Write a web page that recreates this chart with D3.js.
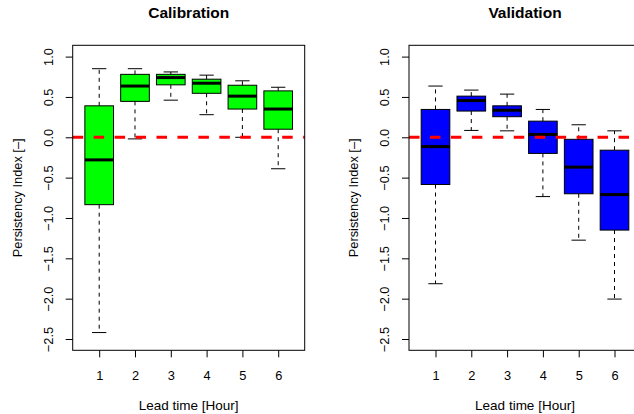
<!DOCTYPE html>
<html>
<head>
<meta charset="utf-8">
<script src="https://cdn.jsdelivr.net/npm/d3@7"></script>
<style>
  html, body { margin: 0; padding: 0; background: #fff; }
  svg { display: block; font-family: "Liberation Sans", Arial, Helvetica, sans-serif; }
</style>
</head>
<body>
<svg id="chart" width="634" height="414"></svg>
<script>
// Lead times (hours) shared by both panels
const leadTimes = [1, 2, 3, 4, 5, 6];
const yTicks = [1.0, 0.5, 0.0, -0.5, -1.0, -1.5, -2.0, -2.5];

// Calibration box statistics: lower whisker, Q1, median, Q3, upper whisker
const calLow  = [-2.42, -0.02, 0.46, 0.28, 0.00, -0.39];
const calQ1   = [-0.835, 0.445, 0.65, 0.545, 0.35, 0.10];
const calMed  = [-0.28, 0.635, 0.74, 0.67, 0.51, 0.35];
const calQ3   = [0.39, 0.78, 0.78, 0.72, 0.645, 0.575];
const calHigh = [0.85, 0.85, 0.81, 0.77, 0.70, 0.62];

// Validation box statistics
const valLow  = [-1.815, 0.085, 0.08, -0.735, -1.275, -2.005];
const valQ1   = [-0.585, 0.325, 0.255, -0.20, -0.70, -1.15];
const valMed  = [-0.115, 0.455, 0.335, 0.035, -0.37, -0.71];
const valQ3   = [0.345, 0.51, 0.39, 0.20, -0.025, -0.16];
const valHigh = [0.635, 0.585, 0.535, 0.345, 0.155, 0.08];

const svg = d3.select("#chart");
const fontSize = 12.8;

function panel(opts) {
  const { left, title, fill, low, q1, med, q3, high } = opts;
  const top = 45.3, bottom = 350.3, width = 232;
  const right = left + width;

  // R-style extended ranges (4% padding)
  const x = d3.scaleLinear().domain([0.26, 6.74]).range([left, right]);
  const y = d3.scaleLinear().domain([-2.64, 1.14]).range([bottom, top]);

  const g = svg.append("g");
  const boxHalf = 0.4, capHalf = 0.2;

  leadTimes.forEach((t, i) => {
    const bx = g.append("g");
    // whiskers
    [[q3[i], high[i]], [q1[i], low[i]]].forEach(([a, b]) => {
      bx.append("line")
        .attr("x1", x(t)).attr("x2", x(t))
        .attr("y1", y(a)).attr("y2", y(b))
        .attr("stroke", "#000").attr("stroke-width", 1)
        .attr("stroke-dasharray", "4,4");
    });
    // staples
    [high[i], low[i]].forEach(v => {
      bx.append("line")
        .attr("x1", x(t - capHalf)).attr("x2", x(t + capHalf))
        .attr("y1", y(v)).attr("y2", y(v))
        .attr("stroke", "#000").attr("stroke-width", 1);
    });
    // box
    bx.append("rect")
      .attr("x", x(t - boxHalf)).attr("width", x(t + boxHalf) - x(t - boxHalf))
      .attr("y", y(q3[i])).attr("height", y(q1[i]) - y(q3[i]))
      .attr("fill", fill).attr("stroke", "#000").attr("stroke-width", 1);
    // median
    bx.append("line")
      .attr("x1", x(t - boxHalf)).attr("x2", x(t + boxHalf))
      .attr("y1", y(med[i])).attr("y2", y(med[i]))
      .attr("stroke", "#000").attr("stroke-width", 3);
  });

  // zero reference line
  g.append("line")
    .attr("x1", left).attr("x2", right)
    .attr("y1", y(0)).attr("y2", y(0))
    .attr("stroke", "#ff0000").attr("stroke-width", 3)
    .attr("stroke-dasharray", "10.5,10.45");

  // frame
  g.append("rect")
    .attr("x", left).attr("y", top)
    .attr("width", width).attr("height", bottom - top)
    .attr("fill", "none").attr("stroke", "#000").attr("stroke-width", 1);

  // x axis
  const xa = g.append("g").attr("transform", `translate(0,${bottom})`)
    .call(d3.axisBottom(x).tickValues(leadTimes).tickSize(7).tickFormat(d3.format("d")));
  xa.select(".domain").remove();
  xa.selectAll("line").attr("stroke", "#000");
  xa.selectAll("text")
    .attr("y", 29.7).attr("dy", 0)
    .attr("font-size", fontSize).attr("font-family", null).attr("fill", "#000");

  // y axis
  const ya = g.append("g").attr("transform", `translate(${left},0)`)
    .call(d3.axisLeft(y).tickValues(yTicks).tickSize(7)
      .tickFormat(d => d3.format(".1f")(d).replace("-", "\u2212")));
  ya.select(".domain").remove();
  ya.selectAll("line").attr("stroke", "#000");
  ya.selectAll("text")
    .attr("x", 0).attr("y", -19.7).attr("dy", 0)
    .attr("transform", "rotate(-90)")
    .attr("text-anchor", "middle")
    .attr("font-size", fontSize).attr("font-family", null).attr("fill", "#000");

  // titles and labels
  const cx = (left + right) / 2;
  svg.append("text")
    .attr("x", cx).attr("y", 18.3)
    .attr("text-anchor", "middle")
    .attr("font-size", 15.5).attr("font-weight", "bold")
    .text(title);

  svg.append("text")
    .attr("x", cx).attr("y", 410)
    .attr("text-anchor", "middle")
    .attr("font-size", 13.5)
    .text("Lead time [Hour]");

  svg.append("text")
    .attr("transform", `translate(${left - 51},${(top + bottom) / 2}) rotate(-90)`)
    .attr("text-anchor", "middle")
    .attr("font-size", fontSize)
    .text("Persistency Index [\u2013]");
}

panel({ left: 72.7, title: "Calibration", fill: "#00ff00",
        low: calLow, q1: calQ1, med: calMed, q3: calQ3, high: calHigh });
panel({ left: 409, title: "Validation", fill: "#0000ff",
        low: valLow, q1: valQ1, med: valMed, q3: valQ3, high: valHigh });
</script>
</body>
</html>
